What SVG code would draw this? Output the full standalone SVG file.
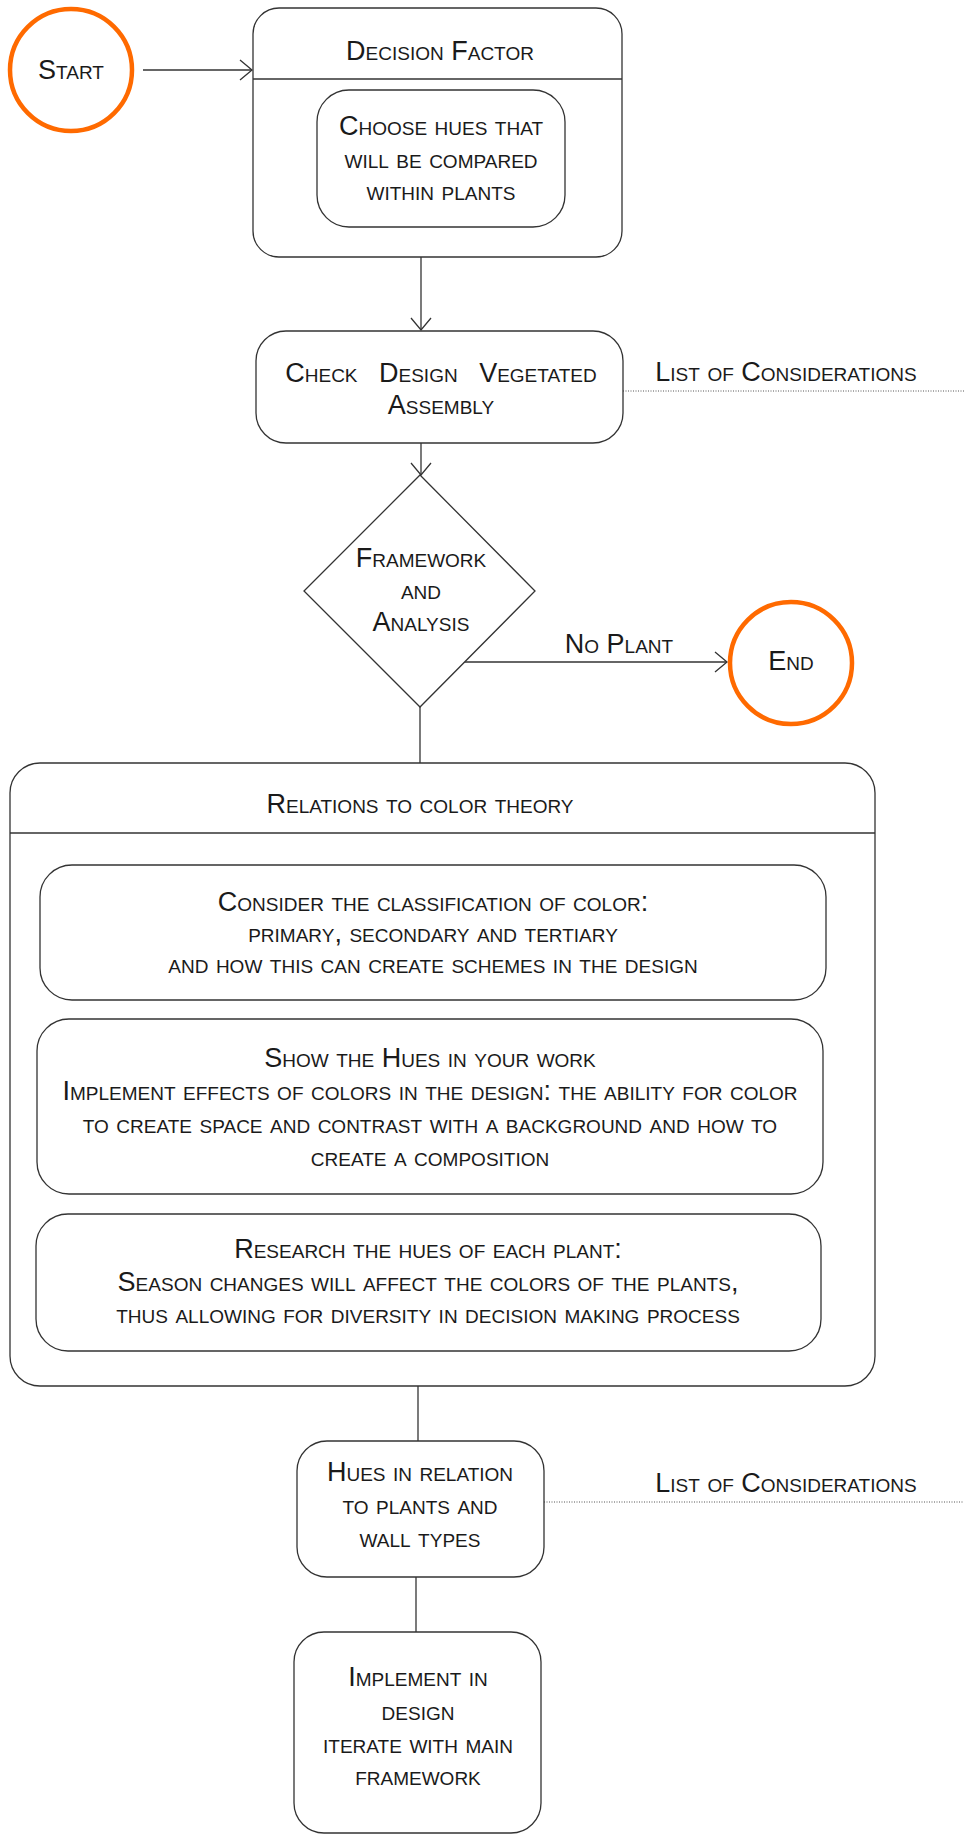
<svg xmlns="http://www.w3.org/2000/svg" width="964" height="1839" viewBox="0 0 964 1839">
  <style>
    .box { fill: #ffffff; stroke: #333333; stroke-width: 1.3; }
    .term { fill: #ffffff; stroke: #ff6a00; stroke-width: 4.5; }
    .sep { stroke: #333333; stroke-width: 1.3; fill: none; }
    .edge { stroke: #333333; stroke-width: 1.3; fill: none; }
    .dot { stroke: #555555; stroke-width: 1; stroke-dasharray: 1 1.5; fill: none; }
    text { font-family: "Liberation Sans", Arial, Helvetica, sans-serif; font-size: 27px; font-variant: small-caps; fill: #1a1a1a; text-anchor: middle; }
  </style>
  <defs>
    <marker id="open" markerUnits="userSpaceOnUse" viewBox="-14 -12 16 24" markerWidth="16" markerHeight="24" refX="0" refY="0" orient="auto">
      <path d="M-12,-10 L0,0 L-12,10" fill="none" stroke="#333333" stroke-width="1.3"/>
    </marker>
  </defs>

  <rect width="964" height="1839" fill="#ffffff"/>

  <!-- connectors -->
  <g id="connectors">
    <path class="edge" d="M143,70 H252" marker-end="url(#open)"/>
    <path class="edge" d="M421,257 V330" marker-end="url(#open)"/>
    <path class="edge" d="M421,443 V475" marker-end="url(#open)"/>
    <path class="edge" d="M462,662 H727" marker-end="url(#open)"/>
    <path class="edge" d="M420,707 V763"/>
    <path class="edge" d="M418,1386 V1441"/>
    <path class="edge" d="M416,1577 V1632"/>
    <path class="dot" d="M623,391 H964"/>
    <path class="dot" d="M544,1502 H964"/>
  </g>

  <!-- start terminal -->
  <g id="start">
    <circle class="term" cx="71" cy="70" r="61"/>
    <text x="71" y="79">Start</text>
  </g>

  <!-- decision factor container -->
  <g id="decision-factor">
    <rect class="box" x="253" y="8" width="369" height="249" rx="26"/>
    <line class="sep" x1="253" y1="79" x2="622" y2="79"/>
    <text x="440" y="60">Decision Factor</text>
  </g>

  <g id="choose-hues">
    <rect class="box" x="317" y="90" width="248" height="137" rx="32"/>
    <text x="441" y="135">Choose hues that</text>
    <text x="441" y="168">will be compared</text>
    <text x="441" y="200">within plants</text>
  </g>

  <!-- vegetated assembly check -->
  <g id="check-design">
    <rect class="box" x="256" y="331" width="367" height="112" rx="30"/>
    <text x="441" y="382" word-spacing="14">Check Design Vegetated</text>
    <text x="441" y="414">Assembly</text>
  </g>

  <g id="considerations-1">
    <text x="786" y="381">List of Considerations</text>
  </g>

  <!-- framework decision -->
  <g id="framework">
    <polygon class="box" points="420,475 535,591 420,707 304,591"/>
    <text x="421" y="567">Framework</text>
    <text x="421" y="599">and</text>
    <text x="421" y="631">Analysis</text>
  </g>

  <g id="no-plant-label">
    <text x="619" y="653">No Plant</text>
  </g>

  <g id="end">
    <circle class="term" cx="791" cy="663" r="61"/>
    <text x="791" y="670">End</text>
  </g>

  <!-- colour theory container -->
  <g id="color-theory">
    <rect class="box" x="10" y="763" width="865" height="623" rx="30"/>
    <line class="sep" x1="10" y1="833" x2="875" y2="833"/>
    <text x="420" y="813">Relations to color theory</text>
  </g>

  <g id="classification">
    <rect class="box" x="40" y="865" width="786" height="135" rx="32"/>
    <text x="433" y="911">Consider the classification of color:</text>
    <text x="433" y="942">primary, secondary and tertiary</text>
    <text x="433" y="973">and how this can create schemes in the design</text>
  </g>

  <g id="show-hues">
    <rect class="box" x="37" y="1019" width="786" height="175" rx="32"/>
    <text x="430" y="1067">Show the Hues in your work</text>
    <text x="430" y="1100">Implement effects of colors in the design: the ability for color</text>
    <text x="430" y="1133">to create space and contrast with a background and how to</text>
    <text x="430" y="1166">create a composition</text>
  </g>

  <g id="research-hues">
    <rect class="box" x="36" y="1214" width="785" height="137" rx="32"/>
    <text x="428" y="1258">Research the hues of each plant:</text>
    <text x="428" y="1291">Season changes will affect the colors of the plants,</text>
    <text x="428" y="1323">thus allowing for diversity in decision making process</text>
  </g>

  <!-- plant and wall relation -->
  <g id="hues-relation">
    <rect class="box" x="297" y="1441" width="247" height="136" rx="30"/>
    <text x="420" y="1481">Hues in relation</text>
    <text x="420" y="1514">to plants and</text>
    <text x="420" y="1547">wall types</text>
  </g>

  <g id="considerations-2">
    <text x="786" y="1492">List of Considerations</text>
  </g>

  <g id="implement">
    <rect class="box" x="294" y="1632" width="247" height="201" rx="30"/>
    <text x="418" y="1686">Implement in</text>
    <text x="418" y="1720">design</text>
    <text x="418" y="1753">iterate with main</text>
    <text x="418" y="1785">framework</text>
  </g>
</svg>
